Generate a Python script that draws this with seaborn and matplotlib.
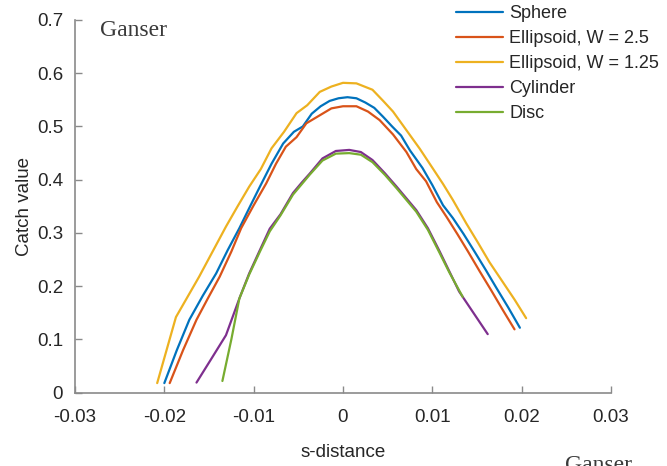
import matplotlib
matplotlib.use("Agg")
import matplotlib.pyplot as plt
import seaborn as sns
import pandas as pd

# ---- data ----
sphere_x = [-0.0200, -0.0186, -0.0172, -0.0157, -0.0142, -0.0129, -0.0116, -0.0104, -0.0093, -0.0080,
            -0.0067, -0.0055, -0.0045, -0.0035, -0.0025, -0.0015, -0.0005, 0.0005, 0.0015, 0.0025,
            0.0035, 0.0045, 0.0055, 0.0065, 0.0075, 0.0089, 0.0100, 0.0112, 0.0123, 0.0135,
            0.0148, 0.0160, 0.0172, 0.0185, 0.0198]
sphere_y = [0.018, 0.080, 0.137, 0.182, 0.224, 0.268, 0.309, 0.350, 0.387, 0.430,
            0.468, 0.490, 0.500, 0.524, 0.538, 0.548, 0.553, 0.555, 0.553, 0.545,
            0.535, 0.518, 0.500, 0.483, 0.455, 0.422, 0.390, 0.352, 0.328, 0.298,
            0.263, 0.230, 0.196, 0.160, 0.122]

ell25_x = [-0.0194, -0.0179, -0.0164, -0.0151, -0.0138, -0.0125, -0.0114, -0.0100, -0.0086, -0.0075,
           -0.0064, -0.0052, -0.0041, -0.0027, -0.0013, 0.0000, 0.0015, 0.0028, 0.0041, 0.0056,
           0.0071, 0.0082, 0.0093, 0.0105, 0.0116, 0.0128, 0.0140, 0.0153, 0.0166, 0.0179, 0.0192]
ell25_y = [0.018, 0.080, 0.137, 0.178, 0.218, 0.265, 0.309, 0.352, 0.393, 0.430,
           0.462, 0.480, 0.506, 0.520, 0.534, 0.538, 0.538, 0.528, 0.512, 0.485,
           0.452, 0.420, 0.397, 0.358, 0.330, 0.298, 0.265, 0.228, 0.192, 0.155, 0.119]

ell125_x = [-0.0208, -0.0187, -0.0174, -0.0161, -0.0146, -0.0131, -0.0118, -0.0105, -0.0092, -0.0080,
            -0.0066, -0.0052, -0.0040, -0.0026, -0.0013, 0.0000, 0.0015, 0.0033, 0.0045, 0.0056,
            0.0071, 0.0086, 0.0101, 0.0112, 0.0123, 0.0138, 0.0151, 0.0164, 0.0178, 0.0192, 0.0205]
ell125_y = [0.018, 0.142, 0.180, 0.218, 0.265, 0.312, 0.350, 0.387, 0.420, 0.459,
            0.490, 0.525, 0.540, 0.565, 0.575, 0.582, 0.581, 0.569, 0.548, 0.528,
            0.493, 0.458, 0.420, 0.392, 0.362, 0.318, 0.282, 0.245, 0.210, 0.175, 0.140]

cyl_x = [-0.0164, -0.0148, -0.0131, -0.0116, -0.0105, -0.0093, -0.0082, -0.0070, -0.0056, -0.0046,
         -0.0037, -0.0023, -0.0008, 0.0007, 0.0020, 0.0033, 0.0047, 0.0060, 0.0071, 0.0082,
         0.0095, 0.0108, 0.0119, 0.0130, 0.0146, 0.0162]
cyl_y = [0.019, 0.062, 0.108, 0.177, 0.224, 0.268, 0.308, 0.335, 0.375, 0.395,
         0.412, 0.440, 0.454, 0.456, 0.452, 0.437, 0.412, 0.387, 0.365, 0.343,
         0.309, 0.266, 0.228, 0.190, 0.150, 0.110]

disc_x = [-0.0135, -0.0125, -0.0116, -0.0105, -0.0093, -0.0082, -0.0070, -0.0056, -0.0046, -0.0037,
          -0.0023, -0.0008, 0.0007, 0.0020, 0.0033, 0.0047, 0.0060, 0.0071, 0.0082, 0.0095,
          0.0108, 0.0119, 0.0134]
disc_y = [0.022, 0.100, 0.177, 0.222, 0.265, 0.303, 0.333, 0.372, 0.392, 0.410,
          0.436, 0.449, 0.450, 0.447, 0.433, 0.409, 0.384, 0.362, 0.340, 0.306,
          0.263, 0.226, 0.180]

series_names = ["Sphere", "Ellipsoid, W = 2.5", "Ellipsoid, W = 1.25", "Cylinder", "Disc"]
series_x = [sphere_x, ell25_x, ell125_x, cyl_x, disc_x]
series_y = [sphere_y, ell25_y, ell125_y, cyl_y, disc_y]
colors = ["#0072BD", "#D95319", "#EDB120", "#7E2F8E", "#77AC30"]

xticks = [-0.03, -0.02, -0.01, 0, 0.01, 0.02, 0.03]
xticklabels = ["-0.03", "-0.02", "-0.01", "0", "0.01", "0.02", "0.03"]
yticks = [0, 0.1, 0.2, 0.3, 0.4, 0.5, 0.6, 0.7]
yticklabels = ["0", "0.1", "0.2", "0.3", "0.4", "0.5", "0.6", "0.7"]

rows = []
for name, xs, ys in zip(series_names, series_x, series_y):
    for i, (xv, yv) in enumerate(zip(xs, ys)):
        rows.append({"shape": name, "s": xv, "catch": yv, "order": i})
df = pd.DataFrame(rows)

sns.set_theme(style="white")
plt.rcParams["font.family"] = ["Liberation Sans", "DejaVu Sans"]

fig = plt.figure(figsize=(6.67, 4.66), dpi=100)
ax = fig.add_axes([75 / 667, 1 - 392.7 / 466, (611 - 75) / 667, (392.7 - 20) / 466])

sns.lineplot(data=df, x="s", y="catch", hue="shape", hue_order=series_names,
             palette=colors, sort=False, estimator=None, units="shape",
             linewidth=1.6, ax=ax, legend=False)

ax.set_xlim(-0.03, 0.03)
ax.set_ylim(0, 0.7)
ax.set_xticks(xticks)
ax.set_xticklabels(xticklabels)
ax.set_yticks(yticks)
ax.set_yticklabels(yticklabels)

spine_col = "#8a8a8a"
for side in ["top", "right"]:
    ax.spines[side].set_visible(False)
for side in ["left", "bottom"]:
    ax.spines[side].set_color(spine_col)
    ax.spines[side].set_linewidth(1.2)
ax.tick_params(direction="in", length=5, width=1, color=spine_col,
               labelsize=13.5, labelcolor="#262626", left=True, bottom=True)
ax.tick_params(axis="x", pad=11.5)
ax.tick_params(axis="y", pad=8.5)

ax.set_xlabel("s-distance", fontsize=13.5, color="#262626", labelpad=13)
ax.set_ylabel("Catch value", fontsize=13.5, color="#262626", labelpad=3)

handles = [plt.Line2D([], [], color=c, lw=1.6) for c in colors]
fig.legend(handles, series_names, loc="upper left",
           bbox_to_anchor=(456 / 667, 1 - 5 / 466), frameon=False,
           fontsize=13, handlelength=2.6, handletextpad=0.35,
           labelspacing=0.45, borderpad=0, borderaxespad=0,
           labelcolor="#262626")

fig.text(100 / 667, 1 - 30 / 466, "Ganser", family="Liberation Serif",
         fontsize=17, color="#3a3a3a", va="center", ha="left")
fig.text(565 / 667, 1 - 455 / 466, "Ganser", family="Liberation Serif",
         fontsize=17, color="#3a3a3a", va="top", ha="left")

fig.savefig("out.png", dpi=100)
